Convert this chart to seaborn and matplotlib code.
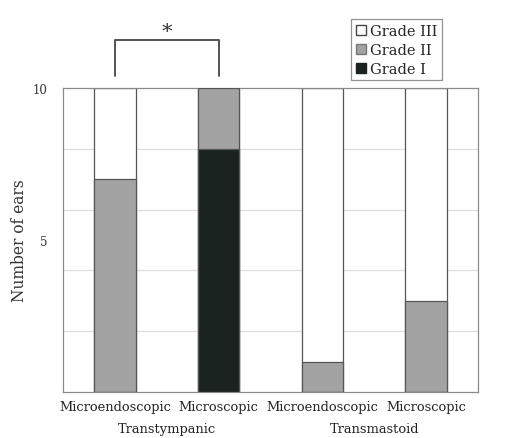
import pandas as pd
import matplotlib
matplotlib.use("Agg")
import matplotlib.pyplot as plt
import seaborn as sns
from matplotlib.patches import Patch

# values
approach = ["Microendoscopic", "Microscopic", "Microendoscopic", "Microscopic"]
route = ["Transtympanic", "Transtympanic", "Transmastoid", "Transmastoid"]
grade1 = [0, 8, 0, 0]
grade2 = [7, 2, 1, 3]
grade3 = [3, 0, 9, 7]
bar_ids = ["a", "b", "c", "d"]

df = pd.DataFrame({"bar": bar_ids, "g1": grade1, "g2": grade2, "g3": grade3})
df["g12"] = df["g1"] + df["g2"]
df["total"] = df["g12"] + df["g3"]

sns.set_style("white")
plt.rcParams["font.family"] = "serif"
plt.rcParams["font.serif"] = ["DejaVu Serif"]

fig = plt.figure(figsize=(5.09, 4.39), dpi=100)
ax = fig.add_axes([0.124, 0.105, 0.815, 0.692])

edge = "#555555"
# back to front so the shorter stacks sit on top
sns.barplot(data=df, x="bar", y="total", color="white", edgecolor=edge,
            linewidth=0.9, width=0.4, ax=ax, zorder=2)
sns.barplot(data=df, x="bar", y="g12", color="#a3a3a3", edgecolor=edge,
            linewidth=0.9, width=0.4, ax=ax, zorder=3, saturation=1)
sns.barplot(data=df, x="bar", y="g1", color="#1b2321", edgecolor=edge,
            linewidth=0.9, width=0.4, ax=ax, zorder=4, saturation=1)

ax.set_ylim(0, 10)
ax.set_xlim(-0.5, 3.5)
for g in [2, 4, 6, 8]:
    ax.axhline(g, color="#dddddd", lw=0.9, zorder=0)
ax.set_yticks([5, 10])
ax.set_yticklabels(["5", "10"])
ax.tick_params(axis="y", left=False, labelsize=8.5, pad=8, labelcolor="#333333")
for s in ax.spines.values():
    s.set_color("#8a8a8a")
    s.set_linewidth(0.9)

ax.set_xticks(range(4))
ax.set_xticklabels(approach, fontsize=9.4, color="#222222")
ax.tick_params(axis="x", length=0, pad=6)
ax.set_xlabel("")
ax.set_ylabel("Number of ears", fontsize=11.2, color="#333333")
ax.yaxis.set_label_coords(-0.085, 0.5)

# route labels under each pair
for pos, name in [(0.5, "Transtympanic"), (2.5, "Transmastoid")]:
    ax.text(pos, -0.1, name, transform=ax.get_xaxis_transform(),
            ha="center", va="top", fontsize=9.4, color="#222222")

# significance bracket
bx = ax.get_xaxis_transform()
ax.plot([0, 0, 1, 1], [1.04, 1.16, 1.16, 1.04], transform=bx,
        color="#444444", lw=1.3, clip_on=False)
ax.text(0.5, 1.155, "*", transform=bx, ha="center", va="bottom",
        fontsize=15, color="#333333")

handles = [Patch(facecolor="white", edgecolor="#444444", label="Grade III"),
           Patch(facecolor="#a3a3a3", edgecolor="#777777", label="Grade II"),
           Patch(facecolor="#1b2321", edgecolor="#1b2321", label="Grade I")]
leg = fig.legend(handles=handles, loc="upper left",
                 bbox_to_anchor=(0.676, 0.97), frameon=True, fancybox=False,
                 fontsize=10.5, handlelength=0.7, handleheight=0.7,
                 handletextpad=0.3, borderpad=0.3, labelspacing=0.35)
leg.get_frame().set_edgecolor("#777777")
leg.get_frame().set_linewidth(0.9)

fig.savefig("out.png", dpi=100)
